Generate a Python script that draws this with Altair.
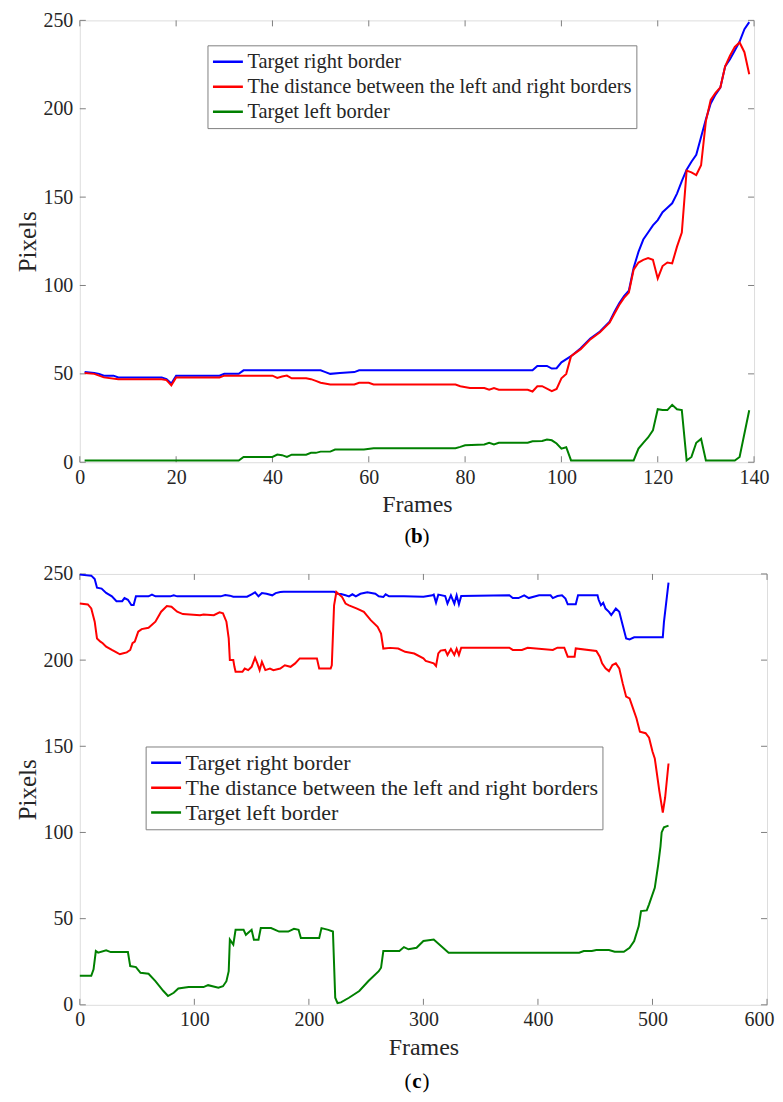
import altair as alt
import pandas as pd

FONT = "Liberation Serif"
GREY = "#808080"
TXT = "#262626"

SERIES = ["Target right border",
          "The distance between the left and right borders",
          "Target left border"]
COLORS = ["#0000ff", "#ff0000", "#008000"]

# ---------------- panel (b) ----------------
B_RIGHT = [(1,51),(3,50.5),(4,50),(5,49),(7,49),(8,48),(17,48),(18,47),(19,44.5),(20,49),(29,49),(30,50),
           (33,50),(34,52),(50,52),(51,51),(52,50),(54,50.5),(57,51),(58,52),(94,52),(95,54.5),(97,54.5),
           (98,53),(99,53.2),(100,56.5),(102,60),(104,64.5),(106,70),(108,74),(110,79.5),(111,85),(112,90),
           (113,94),(114,97),(115,110),(116,119),(117,126),(118,130),(119,134),(120,137),(121,141.5),
           (122,144),(123,146.5),(124,152),(125,159),(126,165.5),(127,170),(128,174),(129,184),(130,194),
           (131,203),(132,208),(133,212),(134,224),(135,228),(136,233),(137,238),(138,245),(139,249)]
B_DIST = [(1,50.5),(3,50),(4,49),(5,48),(8,47),(17,47),(18,46.5),(19,43.5),(20,48),(29,48),(30,49),(40,49),
          (41,47.7),(42,48.5),(43,49),(44,47.5),(47,47.5),(48,47),(49,46),(50,45),(52,44),(57,44),(58,45),
          (60,45),(61,44),(78,44),(79,43),(81,42),(84,42),(85,41),(86,42),(87,41),(93,41),(94,40),(95,43),
          (96,43),(98,40.2),(99,41.5),(100,47.5),(101,50),(102,60),(104,64),(106,69.5),(108,73.5),(110,79),
          (111,84),(112,89),(113,93),(114,96),(115,109),(116,113),(117,114.5),(118,115.5),(119,114.5),
          (120,104),(121,111),(122,113),(123,112.5),(124,122),(125,130),(126,165),(127,164),(128,162.5),
          (129,168),(130,193),(131,205),(132,209),(133,212),(134,224),(135,230),(136,235),(137,237.5),
          (138,232),(139,219.5)]
B_LEFT = [(1,1),(33,1),(34,3),(40,3),(41,4.3),(42,4),(43,3),(44,4.3),(47,4.3),(48,5.3),(49,5.3),(50,6),
          (52,6),(53,7.2),(59,7.2),(61,7.9),(78,7.9),(79,8.7),(80,9.6),(84,10),(85,11),(86,10),(87,11),
          (93,11),(94,11.9),(96,12),(97,12.8),(98,12.4),(99,10.6),(100,7.7),(101,8.5),(102,1),(115,1),
          (116,7.7),(117,11),(118,14),(119,18),(120,30),(121,29.5),(122,29.5),(123,32.5),(124,30),
          (125,29.5),(126,1),(127,3),(128,11),(129,13.2),(130,1),(136,1),(137,3),(139,29.4)]

# ---------------- panel (c) ----------------
C_RIGHT = [(0,249.6),(10,249),(13,247),(15,242),(19,241.5),(23,239),(28,237),(32,234.2),(37,234.2),(39,236),
           (42,235),(45,232),(47,232),(49,237),(60,237),(63,238),(66,237),(79,237),(82,237.6),(85,237),
           (123,237),(127,237.8),(131,237.4),(134,236.8),(146,236.8),(150,238.2),(153,239.3),(156,237),
           (159,238.9),(163,238.5),(168,237.6),(171,238.9),(175,239.5),(178,239.7),(222,239.7),(225,238.5),
           (228,238.3),(232,237.6),(235,237),(238,238.2),(241,237),(245,238.5),(251,239.3),(258,238.5),
           (261,237),(265,236.6),(267,238.2),(270,237),(283,237),(300,236.8),(308,237.6),(309,238),
           (311,233.4),(313,238),(319,237.2),(321,232.8),(324,237.6),(327,232.8),(329,237.6),(331,232.4),
           (333,237.2),(375,237.6),(378,236),(383,236),(388,237.6),(392,236),(401,237.6),(411,237.6),
           (413,236),(417,237.2),(421,237.6),(424,235.7),(426,232.4),(433,232.4),(435,237.6),(452,237.6),
           (453,235),(455,231.8),(457,233.2),(459,229.9),(462,228),(464,226.1),(466,228),(468,229.9),
           (471,228),(474,220.3),(477,212.6),(480,212),(484,213.2),(509,213.2),(510,222),(514,245)]
C_DIST = [(0,232.8),(7,232.3),(10,230),(13,222.3),(15,212.6),(18,210.7),(20,209.8),(23,207.8),(28,205.9),
          (32,204.5),(35,203.4),(38,204),(41,204.5),(44,205.9),(46,209.8),(48,210.7),(51,216.5),(54,218),
          (60,218.8),(66,222.3),(71,228.1),(76,231.4),(80,231),(85,228.1),(90,226.7),(105,226.1),(108,226.5),
          (117,226.1),(122,227.7),(125,227.1),(128,222.3),(130,212.6),(131,200),(134,200),(135,196.1),
          (136,193.2),(142,193.2),(144,195.1),(147,194.2),(150,196.1),(153,201.4),(155,198.1),(157,194.2),
          (159,199),(162,194.2),(166,195.1),(169,194.2),(175,195.1),(179,197),(184,196.1),(188,198.1),
          (192,201),(207,201),(209,195.1),(219,195.1),(220,197),(222,231.8),(224,239.5),(229,236.6),
          (232,232.8),(235,231.8),(242,229.9),(248,228),(254,223.2),(260,219.3),(263,215.4),(265,206.7),
          (271,207.1),(278,206.7),(284,204.8),(292,203.8),(300,201),(302,199.5),(309,198.1),(311,196.6),
          (313,203.9),(315,205.5),(319,205.9),(321,203),(324,206.5),(327,203),(329,206.5),(331,203),
          (333,207.2),(375,207.2),(378,205.9),(386,205.9),(391,207.2),(413,205.9),(417,207.2),(423,207.2),
          (426,202),(432,202),(433,206.8),(451,205.3),(454,202),(456,198.1),(459,195.2),(462,193.6),
          (465,197.1),(468,198.1),(471,195.2),(474,186.5),(477,178.8),(480,177.8),(483,172),(486,166.3),
          (489,158.5),(494,157.6),(497,155),(500,147),(502,143),(506,124),(509,111.5),(511,120),(514,140)]
C_LEFT = [(0,16.8),(10,16.8),(12,20.6),(14,31.2),(16,30.3),(23,31.6),(27,30.6),(42,30.6),(44,22.5),(49,21.9),
          (53,18.6),(60,18),(66,13.8),(73,8),(77,5.1),(82,7),(86,9.5),(95,10.3),(108,10.3),(112,11.4),
          (121,9.9),(125,10.8),(128,13.7),(130,19.5),(131,37.8),(134,34.9),(136,43.5),(143,43.5),(145,40.6),
          (150,43.5),(152,37.8),(156,37.8),(158,44.5),(167,44.5),(174,42.5),(182,42.5),(187,44.1),(191,43.5),
          (193,38.7),(209,38.7),(211,44.5),(217,43.5),(221,42.5),(223,4.1),(225,1),(228,1.4),(235,4.1),
          (244,8),(252,13.8),(261,19.5),(263,21.5),(265,31.2),(279,31.2),(283,33.5),(287,32.2),(294,33.1),
          (300,37),(309,37.9),(322,30.2),(436,30.2),(440,31.2),(447,31.2),(451,31.8),(462,31.8),(467,30.8),
          (475,30.8),(480,33.1),(484,37),(488,45.7),(490,54.4),(495,54.8),(497,58.3),(502,67.9),(505,81.4),
          (507,92),(508,100),(510,103),(514,104)]

B_XTICKS = [0, 20, 40, 60, 80, 100, 120, 140]
C_XTICKS = [0, 100, 200, 300, 400, 500, 600]
YTICKS = [0, 50, 100, 150, 200, 250]
CAP_B = ["(", "b", ")"]
CAP_C = ["(", "c", ")"]


def long_df(series_lists):
    rows = []
    for name, pts in zip(SERIES, series_lists):
        for f, v in pts:
            rows.append({"series": name, "frame": f, "value": v})
    return pd.DataFrame(rows)


def panel(df, xticks, W, H, legx, legy, legfs, rowh, cap_off, title_pad, cap):
    xs = alt.Scale(domain=[xticks[0], xticks[-1]], nice=False, zero=False)
    ys = alt.Scale(domain=[0, 250], nice=False)
    last = xticks[-1]
    xaxis = alt.Axis(values=xticks, title="Frames", labelFont=FONT, labelFontSize=20,
                     titleFont=FONT, titleFontSize=24, titleFontWeight="normal",
                     labelColor=TXT, titleColor=TXT, ticks=False, domain=False, grid=False,
                     labelPadding=5, titlePadding=title_pad, labelFlush=False, format="d",
                     labelAlign=alt.ExprRef(expr=f"datum.value >= {last} && {last} > 500 ? 'right' : 'center'"),
                     labelOffset=alt.ExprRef(expr=f"datum.value >= {last} && {last} > 500 ? 7 : 0"))
    yaxis = alt.Axis(values=YTICKS, title="Pixels", labelFont=FONT, labelFontSize=20,
                     titleFont=FONT, titleFontSize=25, titleFontWeight="normal",
                     labelColor=TXT, titleColor=TXT, ticks=False, domain=False, grid=False,
                     labelPadding=7, titlePadding=2, labelFlush=False, format="d")
    lines = alt.Chart(df).mark_line(strokeWidth=2).encode(
        x=alt.X("frame:Q", scale=xs, axis=xaxis),
        y=alt.Y("value:Q", scale=ys, axis=yaxis),
        color=alt.Color("series:N", scale=alt.Scale(domain=SERIES, range=COLORS),
                        legend=alt.Legend(title=None, orient="none", legendX=legx, legendY=legy,
                                          labelFont=FONT, labelFontSize=legfs, labelColor=TXT,
                                          symbolType="stroke", symbolSize=900, symbolStrokeWidth=2.5,
                                          strokeColor=GREY, fillColor="white", padding=4,
                                          clipHeight=rowh, rowPadding=0, labelOffset=3, labelLimit=0)),
    )
    xt = pd.DataFrame({"frame": xticks})
    yt = pd.DataFrame({"value": YTICKS})
    tb = alt.Chart(xt).mark_rule(color=GREY).encode(x=alt.X("frame:Q", scale=xs), y=alt.value(H), y2=alt.value(H - 6))
    tt = alt.Chart(xt).mark_rule(color=GREY).encode(x=alt.X("frame:Q", scale=xs), y=alt.value(0), y2=alt.value(6))
    tl = alt.Chart(yt).mark_rule(color=GREY).encode(y=alt.Y("value:Q", scale=ys), x=alt.value(0), x2=alt.value(6))
    tr = alt.Chart(yt).mark_rule(color=GREY).encode(y=alt.Y("value:Q", scale=ys), x=alt.value(W), x2=alt.value(W - 6))
    one = pd.DataFrame({"k": [0]})
    cy = H + cap_off
    cx = 338
    c1 = alt.Chart(one).mark_text(text=cap[0], font=FONT, fontSize=21, align="right", baseline="middle",
                                  color="black").encode(x=alt.value(cx - 5.5), y=alt.value(cy))
    c2 = alt.Chart(one).mark_text(text=cap[1], font=FONT, fontSize=21, fontWeight="bold", align="center",
                                  baseline="middle", color="black").encode(x=alt.value(cx), y=alt.value(cy))
    c3 = alt.Chart(one).mark_text(text=cap[2], font=FONT, fontSize=21, align="left", baseline="middle",
                                  color="black").encode(x=alt.value(cx + 5.5), y=alt.value(cy))
    return alt.layer(tb, tt, tl, tr, lines, c1, c2, c3).properties(width=W, height=H)


top = panel(long_df([B_RIGHT, B_DIST, B_LEFT]), B_XTICKS, 676, 443, 128, 25, 20.5, 25, 75, 5, CAP_B)
bottom = panel(long_df([C_RIGHT, C_DIST, C_LEFT]), C_XTICKS, 689, 432, 66, 173, 22, 24.5, 77, 6, CAP_C)

chart = alt.vconcat(top, bottom, spacing=15).resolve_scale(
    color="independent", x="independent", y="independent"
).resolve_legend(color="independent").properties(
    padding={"left": 7, "top": 0, "right": 0, "bottom": 0}
).configure_view(stroke=GREY, strokeWidth=1).configure(background="white")

chart.save("out.html", embed_options={"renderer": "svg", "actions": False})
